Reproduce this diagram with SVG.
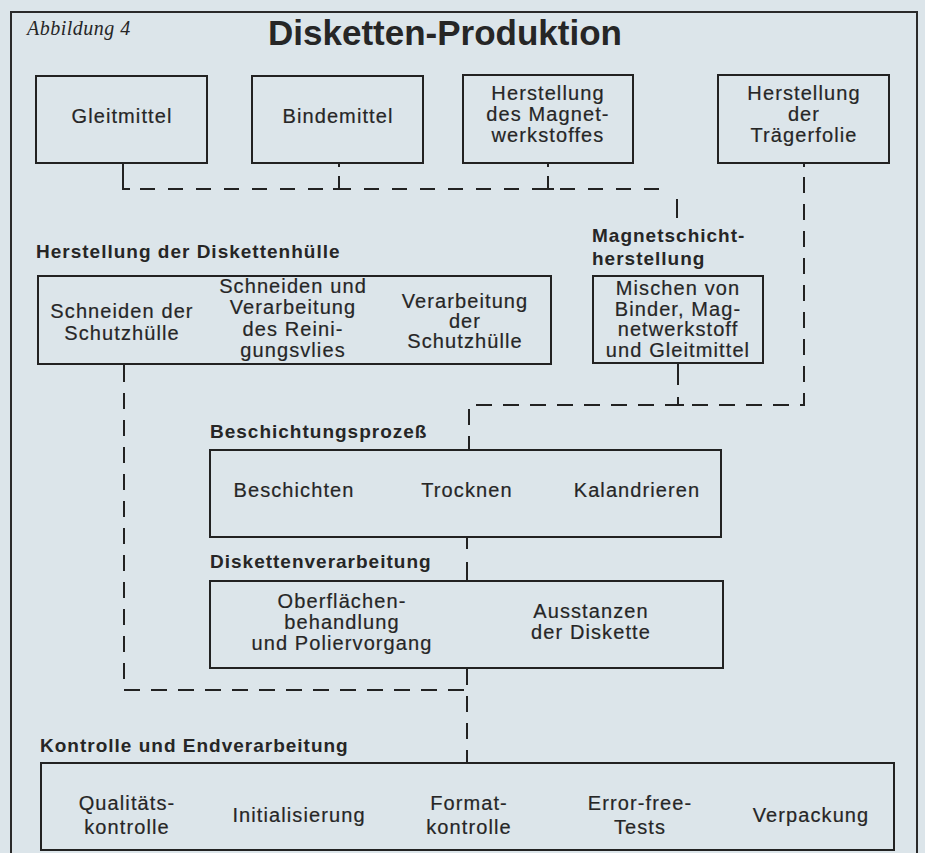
<svg xmlns="http://www.w3.org/2000/svg" width="925" height="853" viewBox="0 0 925 853">
<style>
.bg{fill:#dce5ea}
.frame{fill:none;stroke:#2a2a2a;stroke-width:2}
.box{fill:none;stroke:#222;stroke-width:2}
.t{font-family:"Liberation Sans",Arial,sans-serif;font-size:20px;letter-spacing:1.1px;fill:#262626;stroke:#262626;stroke-width:0.2px;text-anchor:middle}
.lbl{font-family:"Liberation Sans",Arial,sans-serif;font-size:19px;font-weight:bold;letter-spacing:1px;fill:#262626}
.title{font-family:"Liberation Sans",Arial,sans-serif;font-size:35px;font-weight:bold;fill:#262626;text-anchor:middle}
.fig{font-family:"Liberation Serif","Times New Roman",serif;font-size:20px;font-style:italic;letter-spacing:0.5px;fill:#262626}
.sol{fill:none;stroke:#222;stroke-width:2}
.dash{fill:none;stroke:#222;stroke-width:2;stroke-dasharray:16 11}
</style>
<rect class="bg" x="0" y="0" width="925" height="853"/>
<path class="frame" d="M11,853 V12 H917 V853"/>
<text class="fig" x="27" y="35">Abbildung 4</text>
<text class="title" x="445" y="45">Disketten-Produktion</text>

<g id="connectors">
  <path class="sol" d="M123,163 V189 H130"/>
  <path class="dash" d="M140,189 H672" style="stroke-dasharray:15 13"/>
  <path class="sol" d="M339,163 V167 M339,176 V189 M333,189 H345"/>
  <path class="sol" d="M548,163 V167 M548,176 V189 M542,189 H554"/>
  <path class="sol" d="M677,199 V218"/>
  <path class="sol" d="M804,163 V167"/>
  <path class="dash" d="M804,177 V405 H469 V450"/>
  <path class="sol" d="M678,364 V385 M678,397 V405 M672,405 H684"/>
  <path class="sol" d="M124,365 V382"/>
  <path class="dash" d="M124,393 V690 H467"/>
  <path class="sol" d="M467,538 V549"/>
  <path class="sol" d="M467,562 V581"/>
  <path class="dash" d="M467,669 V763"/>
</g>

<g id="gleitmittel">
  <rect class="box" x="36" y="76" width="171" height="87"/>
  <text class="t" x="122" y="123">Gleitmittel</text>
</g>
<g id="bindemittel">
  <rect class="box" x="252" y="76" width="171" height="87"/>
  <text class="t" x="338" y="123">Bindemittel</text>
</g>
<g id="magnetwerkstoff">
  <rect class="box" x="463" y="75" width="170" height="88"/>
  <text class="t" x="548" y="100">Herstellung</text>
  <text class="t" x="548" y="121">des Magnet-</text>
  <text class="t" x="548" y="142">werkstoffes</text>
</g>
<g id="traegerfolie">
  <rect class="box" x="718" y="75" width="171" height="88"/>
  <text class="t" x="804" y="100">Herstellung</text>
  <text class="t" x="804" y="121">der</text>
  <text class="t" x="804" y="142">Trägerfolie</text>
</g>

<g id="diskettenhuelle">
  <text class="lbl" x="36" y="258">Herstellung der Diskettenhülle</text>
  <rect class="box" x="38" y="276" width="513" height="88"/>
  <text class="t" x="122" y="318">Schneiden der</text>
  <text class="t" x="122" y="340">Schutzhülle</text>
  <text class="t" x="293" y="293">Schneiden und</text>
  <text class="t" x="293" y="314">Verarbeitung</text>
  <text class="t" x="293" y="336">des Reini-</text>
  <text class="t" x="293" y="357">gungsvlies</text>
  <text class="t" x="465" y="308">Verarbeitung</text>
  <text class="t" x="465" y="328">der</text>
  <text class="t" x="465" y="348">Schutzhülle</text>
</g>

<g id="magnetschicht">
  <text class="lbl" x="592" y="242">Magnetschicht-</text>
  <text class="lbl" x="592" y="265">herstellung</text>
  <rect class="box" x="593" y="276" width="170" height="87"/>
  <text class="t" x="678" y="295">Mischen von</text>
  <text class="t" x="678" y="316">Binder, Mag-</text>
  <text class="t" x="678" y="336">netwerkstoff</text>
  <text class="t" x="678" y="357">und Gleitmittel</text>
</g>

<g id="beschichtung">
  <text class="lbl" x="210" y="438">Beschichtungsprozeß</text>
  <rect class="box" x="210" y="450" width="511" height="87"/>
  <text class="t" x="294" y="497">Beschichten</text>
  <text class="t" x="467" y="497">Trocknen</text>
  <text class="t" x="637" y="497">Kalandrieren</text>
</g>

<g id="diskettenverarbeitung">
  <text class="lbl" x="210" y="568">Diskettenverarbeitung</text>
  <rect class="box" x="210" y="581" width="513" height="87"/>
  <text class="t" x="342" y="608">Oberflächen-</text>
  <text class="t" x="342" y="629">behandlung</text>
  <text class="t" x="342" y="650">und Poliervorgang</text>
  <text class="t" x="591" y="618">Ausstanzen</text>
  <text class="t" x="591" y="639">der Diskette</text>
</g>

<g id="kontrolle">
  <text class="lbl" x="40" y="752">Kontrolle und Endverarbeitung</text>
  <rect class="box" x="41" y="763" width="853" height="87"/>
  <text class="t" x="127" y="810">Qualitäts-</text>
  <text class="t" x="127" y="834">kontrolle</text>
  <text class="t" x="299" y="822">Initialisierung</text>
  <text class="t" x="469" y="810">Format-</text>
  <text class="t" x="469" y="834">kontrolle</text>
  <text class="t" x="640" y="810">Error-free-</text>
  <text class="t" x="640" y="834">Tests</text>
  <text class="t" x="811" y="822">Verpackung</text>
</g>
</svg>
